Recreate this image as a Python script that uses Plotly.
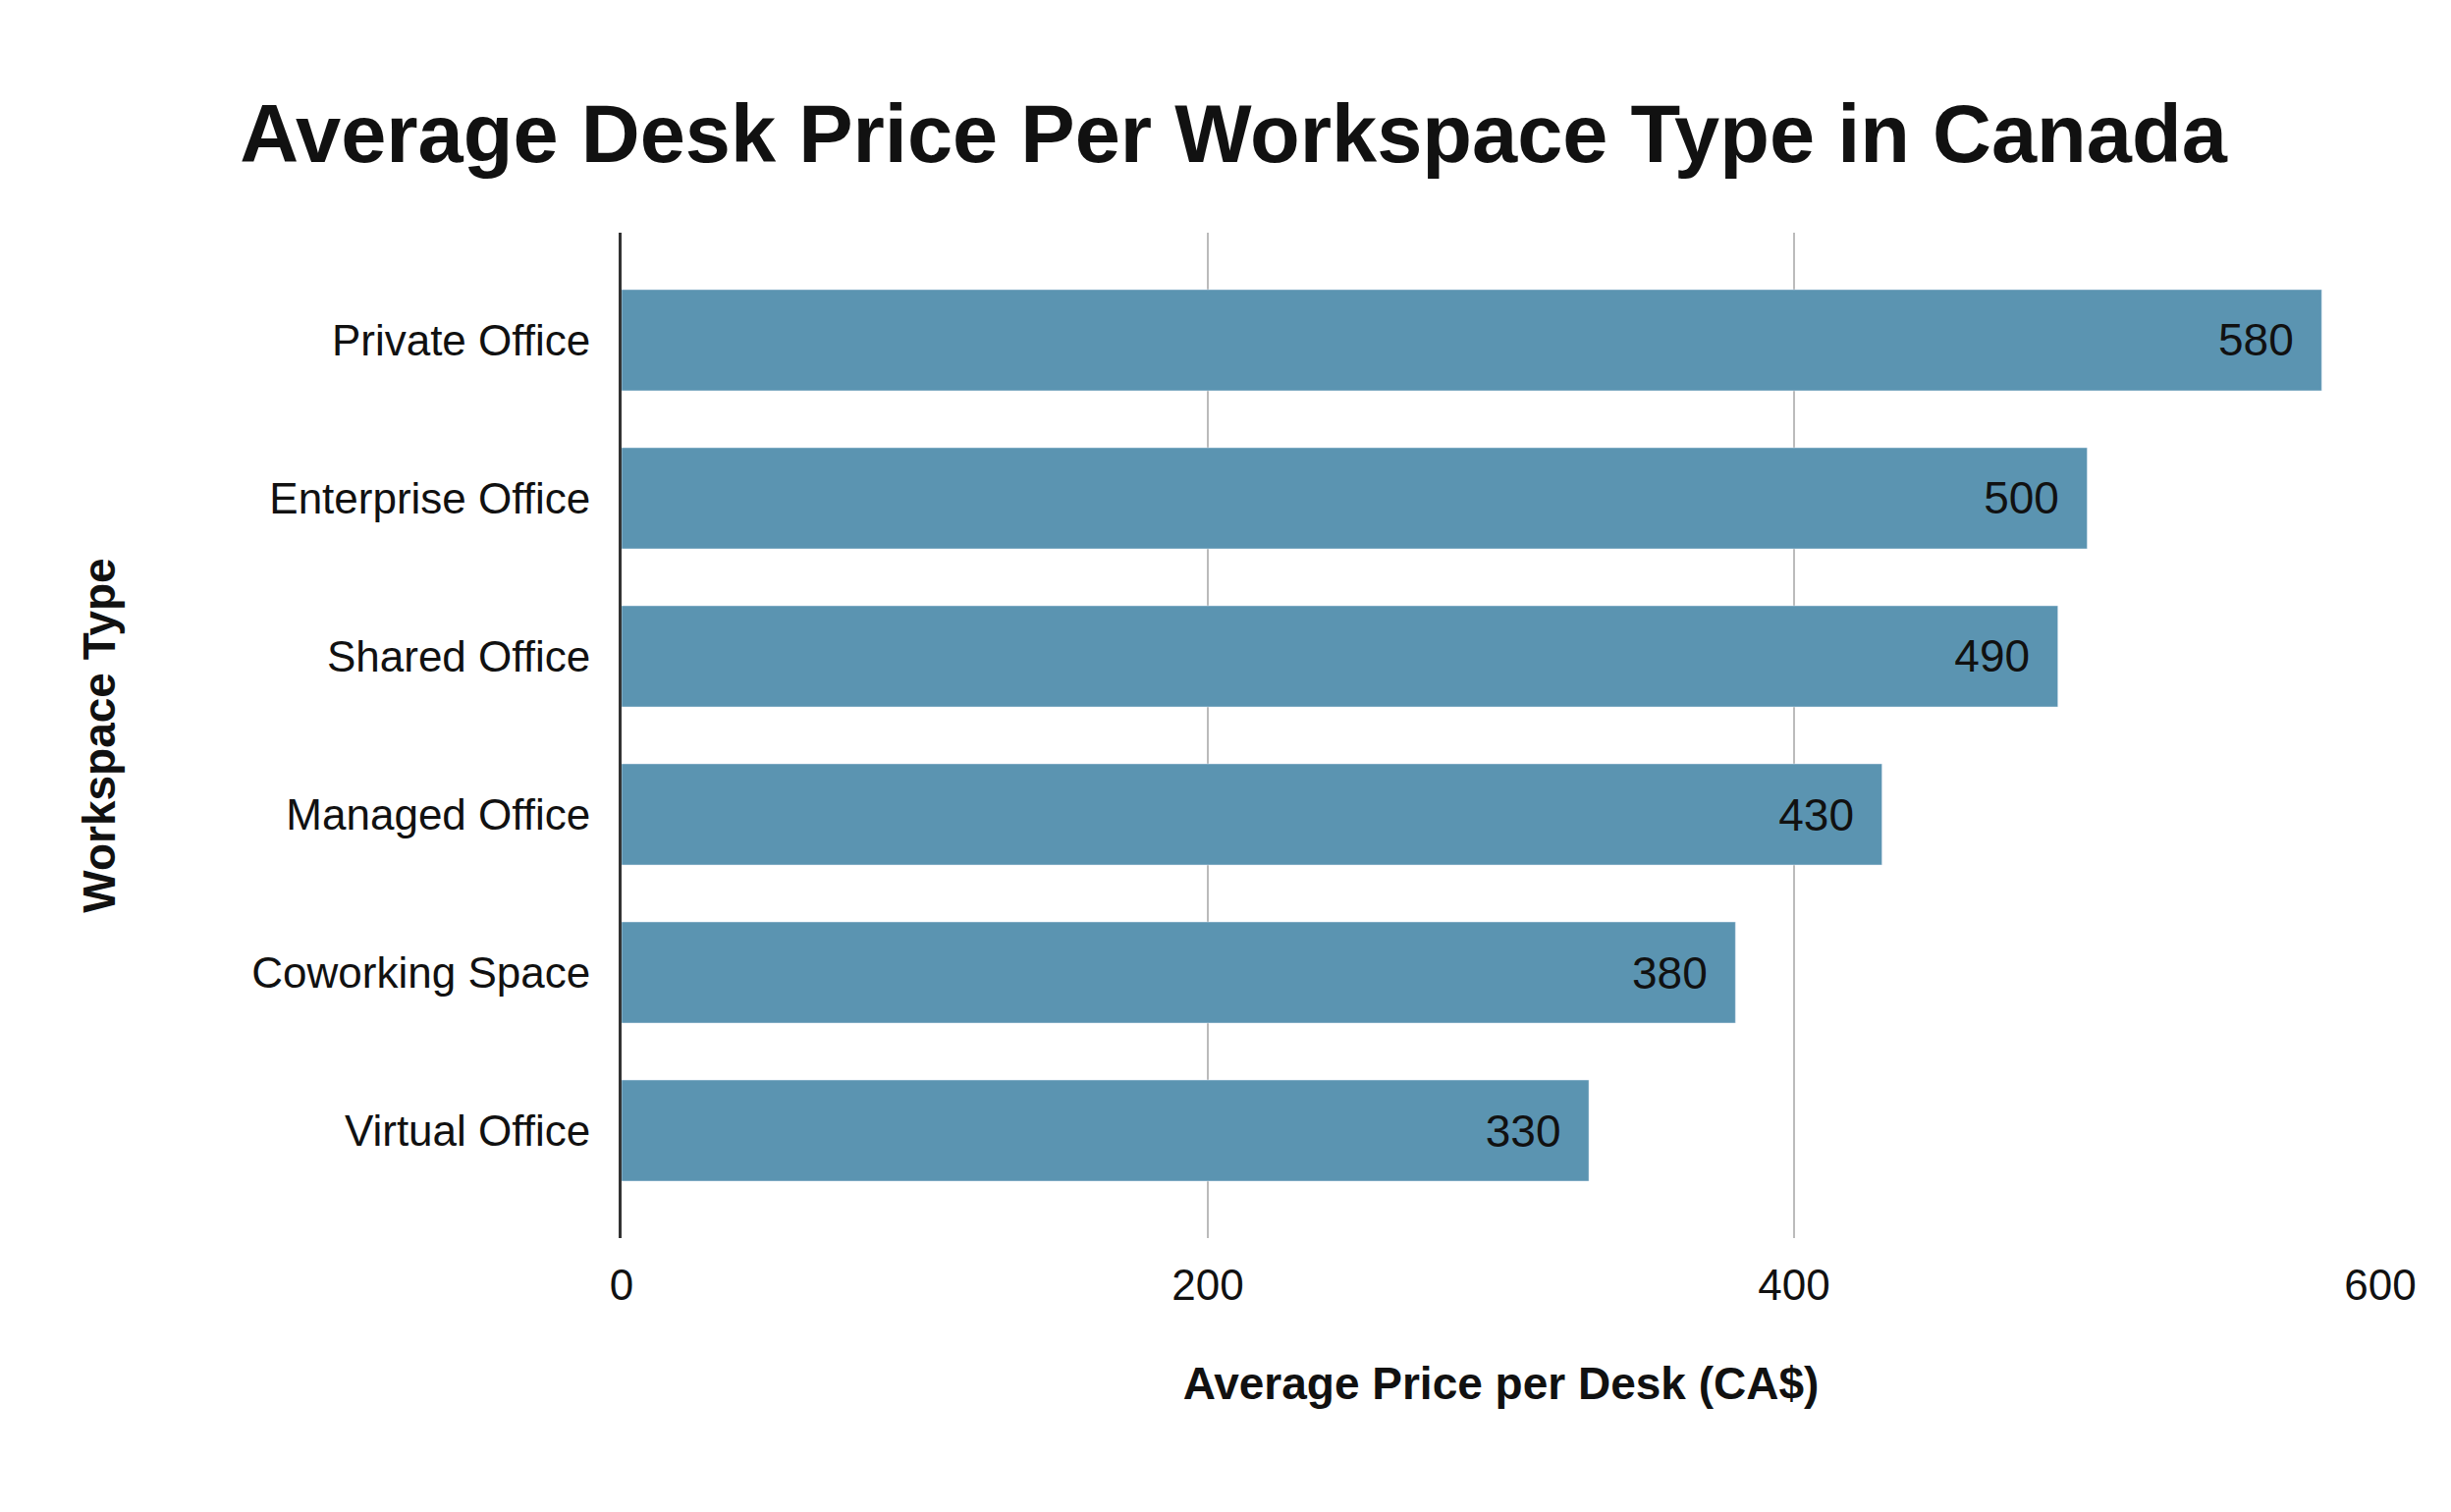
import plotly.graph_objects as go

workspace_types = ["Private Office", "Enterprise Office", "Shared Office",
                   "Managed Office", "Coworking Space", "Virtual Office"]
avg_price = [580, 500, 490, 430, 380, 330]
x_ticks = [0, 200, 400, 600]

fig = go.Figure(go.Bar(
    x=avg_price,
    y=workspace_types,
    orientation="h",
    marker=dict(color="#5b94b1"),
    text=[f"{v}  " for v in avg_price],
    textposition="inside",
    insidetextanchor="end",
    textfont=dict(color="#111111", size=46, family="Liberation Sans"),
))

fig.update_layout(
    width=2496, height=1540,
    paper_bgcolor="white", plot_bgcolor="white",
    margin=dict(l=625, r=80, t=229, b=287),
    bargap=0.36,
    font=dict(family="Liberation Sans", color="#111111"),
    title=dict(text="<b>Average Desk Price Per Workspace Type in Canada</b>",
               x=0.5, xanchor="center", y=0.917, yanchor="middle",
               font=dict(size=83, color="#111111")),
    showlegend=False,
)
fig.update_xaxes(
    range=[0, 600], tickvals=x_ticks, tickfont=dict(size=44),
    showgrid=True, gridcolor="#bbbbbb", gridwidth=2,
    zeroline=False, ticks="", ticklabelstandoff=18,
    title=dict(text="<b>Average Price per Desk (CA$)</b>", font=dict(size=46), standoff=60),
)
fig.update_yaxes(
    range=[5.68, -0.68], tickfont=dict(size=44),
    showline=True, linecolor="#333333", linewidth=3, ticks="",
    ticklabelstandoff=20,
    title=dict(text="<b>Workspace Type</b>", font=dict(size=46), standoff=125),
)

fig.write_html("out.html")
